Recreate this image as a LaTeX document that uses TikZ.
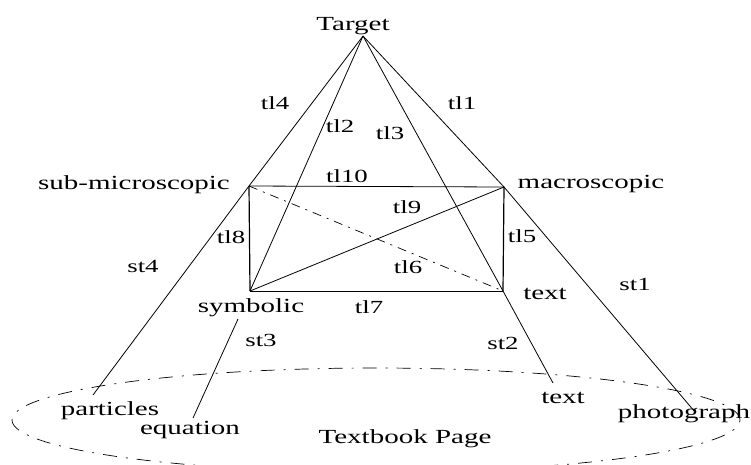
\documentclass[tikz,border=0pt]{standalone}
\usepackage{fontspec}
\setmainfont{Liberation Serif}
\newcommand{\wtxt}[1]{\scalebox{1.45}[1]{#1}}
\usetikzlibrary{shapes.geometric}
\begin{document}
\begin{tikzpicture}[x=1pt,y=-1pt,
  big/.style={font=\fontsize{20}{24}\selectfont, inner sep=0pt, anchor=base},
  small/.style={font=\fontsize{18.5}{22}\selectfont, inner sep=0pt, anchor=base},
  thin line/.style={line width=0.8pt},
  box line/.style={line width=1.2pt},
  dashdotline/.style={line width=0.7pt, dash pattern=on 9pt off 6pt on 2pt off 6pt},
  pageline/.style={line width=0.7pt, dash pattern=on 14pt off 9pt on 2pt off 9pt}]
\useasboundingbox (0,0) rectangle (751,464);
% ellipse (textbook page)
\node[draw, ellipse, pageline, minimum width=728pt, minimum height=104pt, inner sep=0pt] (page) at (376,420) {};
% corner points
\coordinate (T) at (363,36);
\coordinate (SM) at (249,186);
\coordinate (MA) at (504,187);
\coordinate (SY) at (250,291);
\coordinate (TX) at (503,291);
\coordinate (Pend) at (93,395);
\coordinate (Estart) at (238,319);
\coordinate (Eend) at (193,418);
\coordinate (Tend) at (553,383);
\coordinate (Phend) at (695,412);
% target lines
\draw[thin line] (T) -- (SM);
\draw[thin line] (T) -- (MA);
\draw[thin line] (T) -- (SY);
\draw[thin line] (T) -- (TX);
% second-level lines
\draw[thin line] (SM) -- (Pend);
\draw[thin line] (MA) -- (Phend);
\draw[thin line] (TX) -- (Tend);
\draw[thin line] (Estart) -- (Eend);
% rectangle
\draw[thin line] (SM) -- (MA);
\draw[box line] (MA) -- (TX);
\draw[thin line] (SY) -- (TX);
\draw[box line] (SM) -- (SY);
\draw[thin line] (SY) -- (MA);
\draw[dashdotline] (SM) -- (TX);
% labels
\node[big] (lTarget) at (353,30) {\wtxt{Target}};
\node[big] (lSM) at (134,189) {\wtxt{sub-microscopic}};
\node[big] (lMA) at (591,188) {\wtxt{macroscopic}};
\node[big] (lSY) at (251,312) {\wtxt{symbolic}};
\node[big] (lTX) at (545,299) {\wtxt{text}};
\node[big] (lpart) at (110,415) {\wtxt{particles}};
\node[big] (leq) at (190,434) {\wtxt{equation}};
\node[big] (ltext) at (563,403) {\wtxt{text}};
\node[big] (lphoto) at (684,418) {\wtxt{photograph}};
\node[big] (lpage) at (405,443) {\wtxt{Textbook Page}};
\node[small] (tl4) at (275,109) {\wtxt{tl4}};
\node[small] (tl1) at (462,109) {\wtxt{tl1}};
\node[small] (tl2) at (340,132) {\wtxt{tl2}};
\node[small] (tl3) at (390,139) {\wtxt{tl3}};
\node[small] (tl10) at (347,182) {\wtxt{tl10}};
\node[small] (tl9) at (407,213) {\wtxt{tl9}};
\node[small] (tl8) at (231,243) {\wtxt{tl8}};
\node[small] (tl5) at (522,242) {\wtxt{tl5}};
\node[small] (tl6) at (408,273) {\wtxt{tl6}};
\node[small] (tl7) at (369,313) {\wtxt{tl7}};
\node[small] (st1) at (635,290) {\wtxt{st1}};
\node[small] (st2) at (503,349) {\wtxt{st2}};
\node[small] (st3) at (261,346) {\wtxt{st3}};
\node[small] (st4) at (143,272) {\wtxt{st4}};
\end{tikzpicture}
\end{document}
